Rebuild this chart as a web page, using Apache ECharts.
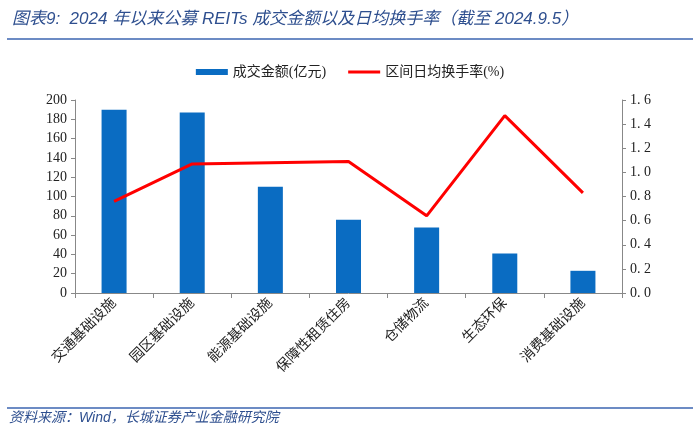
<!DOCTYPE html>
<html><head><meta charset="utf-8">
<script src="https://cdn.jsdelivr.net/npm/echarts@6/dist/echarts.min.js"></script>
<style>html,body{margin:0;padding:0;background:#fff}#c{width:700px;height:436px}</style>
</head><body><div id="c"></div>
<script>
const categories = ['交通基础设施','园区基础设施','能源基础设施','保障性租赁住房','仓储物流','生态环保','消费基础设施'];
const amount = [190, 187, 110, 76, 68, 41, 23];
const turnover = [0.76, 1.07, 1.08, 1.09, 0.64, 1.47, 0.83];
const leftTicks = [0, 200, 20];
const rightTicks = [0, 1.6, 0.2];

const serif = '"Liberation Serif","Noto Sans CJK SC",serif';
const chart = echarts.init(document.getElementById('c'));
chart.setOption({
  animation: false,
  title: {
    text: '图表9:  2024 年以来公募 REITs 成交金额以及日均换手率（截至 2024.9.5）',
    left: 7, top: 6,
    textStyle: {fontSize: 17, fontStyle: 'italic', fontWeight: 'normal', color: '#2E4F8F', fontFamily: '"Liberation Sans","Noto Sans CJK SC",sans-serif'}
  },
  graphic: [
    {type: 'line', shape: {x1: 7, y1: 39, x2: 693, y2: 39}, style: {stroke: '#3B64B0', lineWidth: 1.5}},
    {type: 'line', shape: {x1: 7, y1: 408, x2: 693, y2: 408}, style: {stroke: '#3B64B0', lineWidth: 1.5}},
    {type: 'text', left: 9, top: 411, style: {text: '资料来源：Wind，长城证券产业金融研究院', font: 'italic 14px "Liberation Sans","Noto Sans CJK SC",sans-serif', fill: '#2E4F8F'}}
  ],
  legend: {
    top: 60, left: 'center', itemGap: 22, itemWidth: 32, itemHeight: 6,
    textStyle: {fontFamily: serif, fontSize: 14, color: '#222'},
    data: [
      {name: '成交金额(亿元)', icon: 'rect'},
      {name: '区间日均换手率(%)', icon: 'path://M0,0 L32,0 L32,3 L0,3 Z'}
    ]
  },
  grid: {left: 75, right: 78, top: 100, bottom: 143},
  xAxis: {
    type: 'category', data: categories,
    axisLine: {lineStyle: {color: '#888'}},
    axisTick: {show: true, alignWithLabel: false, length: 5, inside: false, lineStyle: {color: '#888'}},
    axisLabel: {rotate: 45, fontFamily: serif, fontSize: 14, color: '#222', interval: 0, margin: 8}
  },
  yAxis: [
    {type: 'value', min: leftTicks[0], max: leftTicks[1], interval: leftTicks[2],
     axisLine: {show: true, lineStyle: {color: '#888'}},
     axisTick: {show: true, length: 4, lineStyle: {color: '#888'}},
     splitLine: {show: false},
     axisLabel: {fontFamily: serif, fontSize: 14, color: '#222', margin: 8}},
    {type: 'value', min: rightTicks[0], max: rightTicks[1], interval: rightTicks[2], position: 'right',
     axisLine: {show: true, lineStyle: {color: '#888'}},
     axisTick: {show: true, length: 4, lineStyle: {color: '#888'}},
     splitLine: {show: false},
     axisLabel: {fontFamily: serif, fontSize: 14, color: '#222', margin: 8,
       formatter: v => v.toFixed(1).replace('.', '. ')}}
  ],
  series: [
    {name: '成交金额(亿元)', type: 'bar', data: amount, barWidth: '32%', itemStyle: {color: '#0A6CC2'}},
    {name: '区间日均换手率(%)', type: 'line', yAxisIndex: 1, data: turnover, symbol: 'none',
     lineStyle: {color: '#FF0000', width: 3}, itemStyle: {color: '#FF0000'}}
  ]
});
</script></body></html>
